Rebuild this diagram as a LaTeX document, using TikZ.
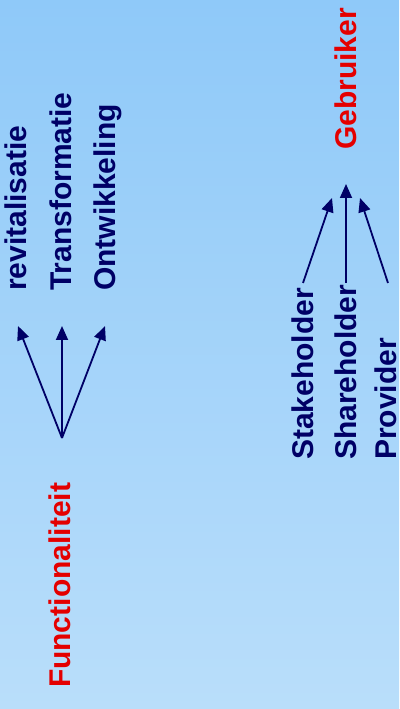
\documentclass[tikz,border=0pt]{standalone}
\usepackage{fontspec}
\setmainfont{Liberation Sans}
\usetikzlibrary{arrows.meta}
\definecolor{bgtop}{RGB}{143,201,249}
\definecolor{bgbot}{RGB}{185,222,250}
\definecolor{navy}{RGB}{0,0,102}
\definecolor{redtxt}{RGB}{228,0,0}
\tikzset{
  lbl/.style={rotate=90, anchor=base west, inner sep=0pt, outer sep=0pt,
    font=\fontsize{30}{32}\selectfont\bfseries, text=navy},
  key/.style={lbl, text=redtxt},
  arr/.style={draw=navy, line width=1.8pt, -{Triangle[length=14pt,width=12pt]}}
}
\begin{document}
\begin{tikzpicture}[x=1pt,y=1pt]
\shade[top color=bgtop, bottom color=bgbot] (0,0) rectangle (399,709);
\useasboundingbox (0,0) rectangle (399,709);
% left group
\node[lbl] (rev) at (27,418) {revitalisatie};
\node[lbl] (tra) at (71,418) {Transformatie};
\node[lbl] (ont) at (115,418) {Ontwikkeling};
\node[key] (fun) at (70,21) {Functionaliteit};
\coordinate (src) at (62,271);
\coordinate (t1) at (18,383);
\coordinate (t2) at (62,383);
\coordinate (t3) at (105,383);
\draw[arr] (src) -- (t1);
\draw[arr] (src) -- (t2);
\draw[arr] (src) -- (t3);
% right group
\node[key] (geb) at (356,559) {Gebruiker};
\node[lbl] (sta) at (313,249) {Stakeholder};
\node[lbl] (sha) at (356,249) {Shareholder};
\node[lbl] (pro) at (396,249) {Provider};
\coordinate (s1) at (303,426);
\coordinate (s2) at (346,426);
\coordinate (s3) at (388,426);
\coordinate (g1) at (332,511);
\coordinate (g2) at (346,525);
\coordinate (g3) at (360,511);
\draw[arr] (s1) -- (g1);
\draw[arr] (s2) -- (g2);
\draw[arr] (s3) -- (g3);
\end{tikzpicture}
\end{document}
